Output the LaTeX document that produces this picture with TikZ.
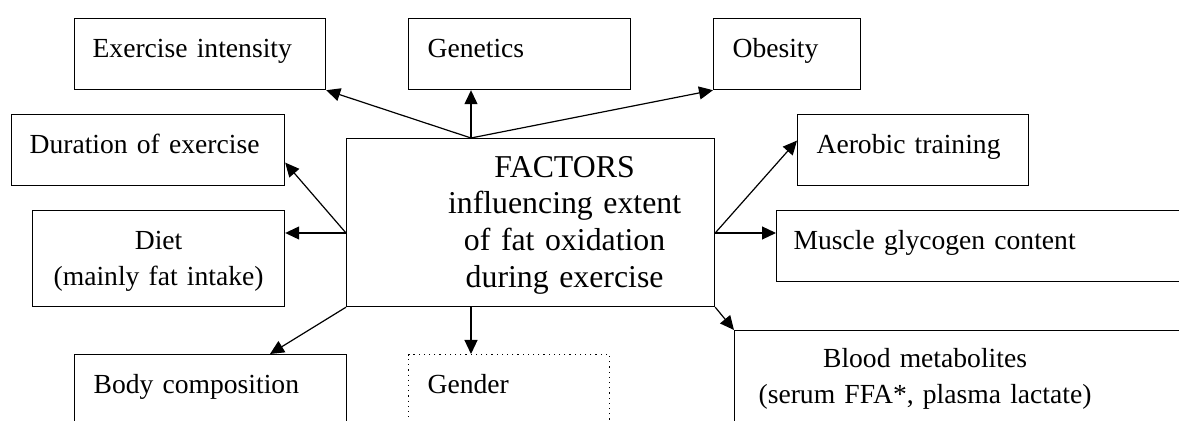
\documentclass[tikz,border=0pt]{standalone}
\usepackage{fontspec}
\setmainfont{Liberation Serif}
\usetikzlibrary{arrows.meta}

\begin{document}
\begin{tikzpicture}[x=0.5pt,y=-0.5pt,line width=0.6pt,>={Triangle[length=7pt,width=6.5pt]},
  factor/.style={draw,anchor=north west,inner sep=0pt,align=left,
    font=\fontsize{13.8}{18}\selectfont,text height=19.5pt}]
\path[use as bounding box,clip] (0,0) rectangle (1179,421);

\node[factor,text width=125.5pt,text depth=16pt] (intensity) at (74,18) {\hspace*{9pt}Exercise intensity};
\node[factor,text width=111pt,text depth=16pt] (genetics) at (408,18) {\hspace*{9.5pt}Genetics};
\node[factor,text width=73.5pt,text depth=16pt] (obesity) at (713,18) {\hspace*{9.5pt}Obesity};
\node[factor,text width=136.5pt,text depth=16pt] (duration) at (11,114) {\hspace*{9pt}Duration of exercise};
\node[factor,text width=115.5pt,text depth=16pt] (aerobic) at (797,114) {\hspace*{9.5pt}Aerobic training};
\node[factor,text width=126pt,text depth=28.5pt,align=center] (diet) at (32,210)
  {\begin{tabular}[t]{@{}c@{}}Diet\\(mainly fat intake)\end{tabular}};
\node[factor,text width=250pt,text depth=16pt] (muscle) at (776,210) {\hspace*{8.5pt}Muscle glycogen content};
\node[factor,font=\fontsize{15.9}{18.35}\selectfont,text width=184pt,text height=19.35pt,text depth=64.65pt,align=center] (factors) at (346,138)
  {\hspace*{34pt}\begin{tabular}[t]{@{}c@{}}FACTORS\\influencing extent\\of fat oxidation\\during exercise\end{tabular}};
\node[factor,text width=136pt,text depth=55.5pt] (body) at (74,354) {\hspace*{9.5pt}Body composition};
\node[factor,dotted,text width=100.5pt,text depth=55.5pt] (gender) at (408,354) {\hspace*{9.5pt}Gender};
\node[factor,text width=260pt,text height=18.5pt,text depth=66.5pt] (blood) at (734,330)
  {\hspace*{12pt}\begin{tabular}[t]{@{}c@{}}Blood metabolites\\(serum FFA*, plasma lactate)\end{tabular}};

\coordinate (ftop) at ([xshift=62.5pt]factors.north west);
\coordinate (fbot) at ([xshift=62.5pt]factors.south west);
\coordinate (fleft) at ([yshift=-47.5pt]factors.north west);
\coordinate (fright) at ([yshift=-47.5pt]factors.north east);

\path[->] (ftop) edge (intensity.south east)
                 edge (ftop |- genetics.south)
                 edge (obesity.south west)
          (fleft) edge ([yshift=-6.25pt]duration.east)
                  edge (fleft -| diet.east)
          (fright) edge ([yshift=4.75pt]aerobic.west)
                   edge (fright -| muscle.west)
          (factors.south west) edge ([xshift=98pt]body.north west)
          (fbot) edge (fbot |- gender.north)
          (factors.south east) edge (blood.north west);
\end{tikzpicture}
\end{document}
